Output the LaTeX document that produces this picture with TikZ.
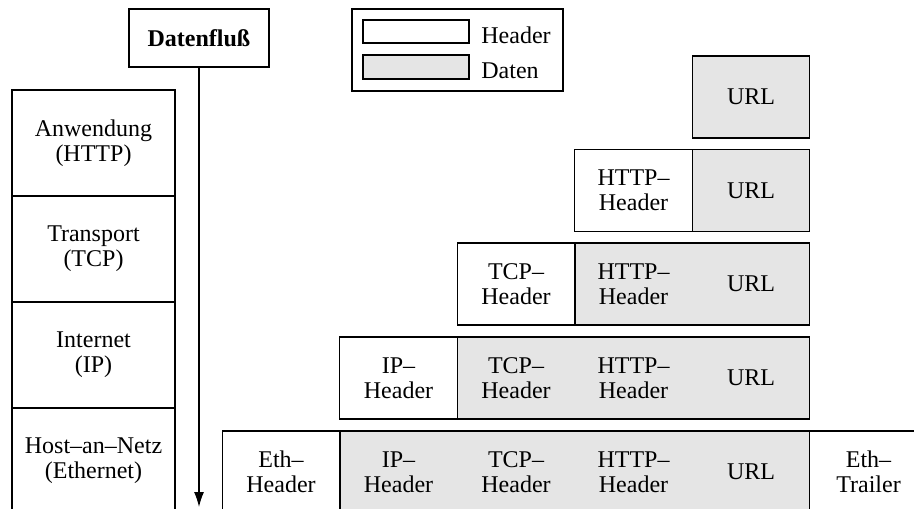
\documentclass[tikz,border=0pt]{standalone}
\usepackage{fontspec}
\setmainfont{Liberation Serif}
\usetikzlibrary{arrows.meta}
\definecolor{datengrau}{gray}{0.9}
\tikzset{
  schrift/.style={font=\fontsize{12}{12.5}\selectfont},
  feld/.style={draw, line width=0.6pt, inner sep=0pt, minimum height=41pt, align=center, schrift},
  kopf/.style={feld, fill=white, minimum width=58.75pt},
  daten/.style={feld, fill=datengrau},
  schicht/.style={draw, line width=0.6pt, inner sep=0pt, minimum width=81.5pt, minimum height=53pt, align=center, schrift},
  txt/.style={inner sep=0pt, align=center, schrift}
}
\begin{document}
\begin{tikzpicture}[x=0.5pt,y=-0.5pt]
\path[use as bounding box, clip] (0,0) rectangle (914,508);
% Datenfluss
\node[draw, line width=0.6pt, minimum width=70pt, minimum height=29pt, inner sep=0pt, schrift, font=\fontsize{12}{12}\selectfont\bfseries] (fluss) at (199,38) {Datenfluß};
\coordinate (ende) at (199,507);
\draw[line width=0.6pt, -{Latex[length=7.5pt,width=5pt]}] (fluss.south) -- (ende);
% Legende
\node[draw, line width=0.6pt, minimum width=105.5pt, minimum height=41pt, inner sep=0pt] (legende) at (457.5,50) {};
\node[draw, line width=0.6pt, fill=white, minimum width=53pt, minimum height=11.5pt, inner sep=0pt] (lkopf) at (416,31.5) {};
\node[draw, line width=0.6pt, fill=datengrau, minimum width=53pt, minimum height=12pt, inner sep=0pt] (ldaten) at (416,67) {};
\node[txt, anchor=base west] (lkopftxt) at (481,44) {Header};
\node[txt, anchor=base west] (ldatentxt) at (481,79) {Daten};
% Schichten
\node[schicht] (anw) at (93.5,143) {Anwendung\\(HTTP)};
\node[schicht] (trans) at (93.5,249) {Transport\\(TCP)};
\node[schicht] (inet) at (93.5,355) {Internet\\(IP)};
\node[schicht] (netz) at (93.5,461) {Host--an--Netz\\(Ethernet)};
% Zeile 1
\node[daten, minimum width=58.75pt] (url1) at (751,97) {URL};
% Zeile 2
\node[kopf] (http2) at (633.5,190.5) {HTTP--\\Header};
\node[daten, minimum width=58.75pt] (url2) at (751,190.5) {URL};
% Zeile 3
\node[kopf] (tcp3) at (516,284) {TCP--\\Header};
\node[daten, minimum width=117.25pt] (nutz3) at (692.25,284) {};
\node[txt] (http3) at (633.5,284) {HTTP--\\Header};
\node[txt] (url3) at (751,284) {URL};
% Zeile 4
\node[kopf] (ip4) at (398.5,378) {IP--\\Header};
\node[daten, minimum width=176pt] (nutz4) at (633.25,378) {};
\node[txt] (tcp4) at (516,378) {TCP--\\Header};
\node[txt] (http4) at (633.5,378) {HTTP--\\Header};
\node[txt] (url4) at (751,378) {URL};
% Zeile 5
\node[kopf] (eth5) at (281,472) {Eth--\\Header};
\node[daten, minimum width=234.75pt] (nutz5) at (574.75,472) {};
\node[kopf] (trailer5) at (868.5,472) {Eth--\\Trailer};
\node[txt] (ip5) at (398.5,472) {IP--\\Header};
\node[txt] (tcp5) at (516,472) {TCP--\\Header};
\node[txt] (http5) at (633.5,472) {HTTP--\\Header};
\node[txt] (url5) at (751,472) {URL};
\end{tikzpicture}
\end{document}
